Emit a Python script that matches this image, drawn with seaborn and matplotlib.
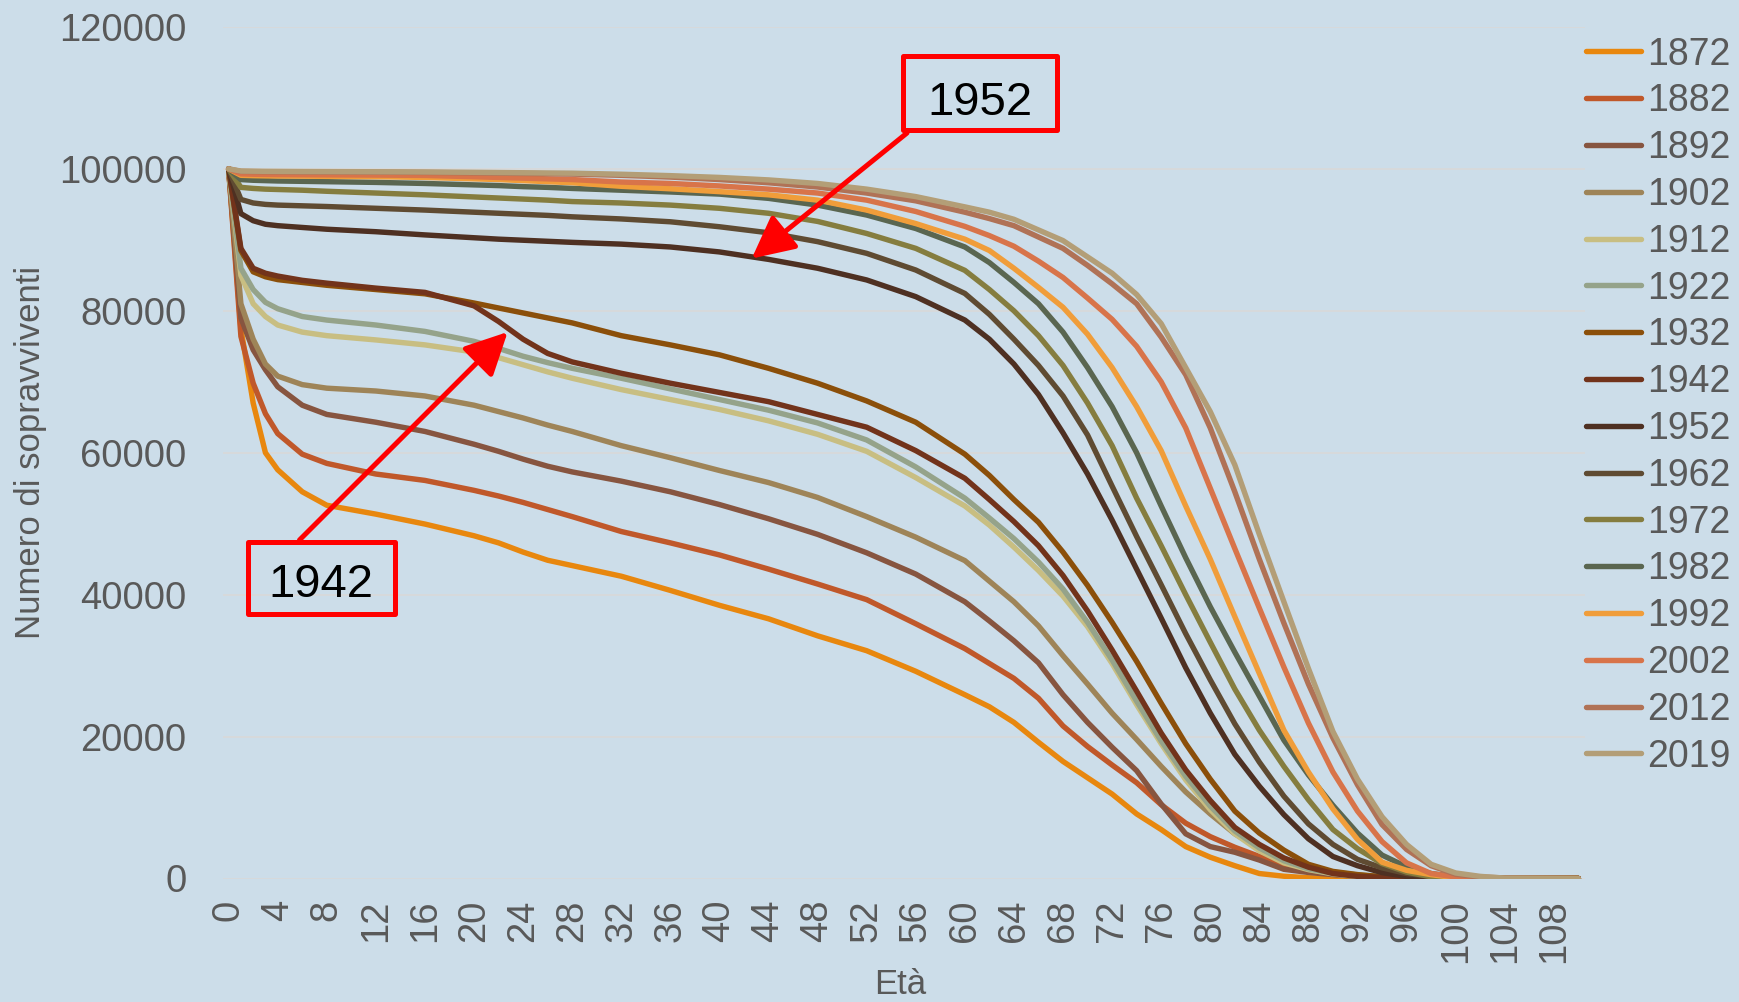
import matplotlib
matplotlib.use("Agg")
import matplotlib.pyplot as plt
from matplotlib.lines import Line2D
from matplotlib.patches import Rectangle
import seaborn as sns
import pandas as pd

# ---------------- data ----------------
ages = [0, 1, 2, 3, 4, 6, 8, 12, 16, 20, 22, 24, 26, 28, 32, 36, 40, 44, 48, 52, 56, 60,
        62, 64, 66, 68, 70, 72, 74, 76, 78, 80, 82, 84, 86, 88, 90, 92, 94, 96, 98, 100, 102, 104,
        110]

l1872 = [100000, 77500, 67000, 60000, 57600, 54500, 52600, 51350, 49950, 48300, 47300, 46000, 44850, 44100,
         42600, 40600, 38500, 36600, 34200, 32100, 29200, 25900,
         24200, 22000, 19200, 16500, 14200, 11900, 9100, 6900, 4500, 3000, 1800, 700, 320, 100, 30, 0, 0, 0, 0, 0, 0, 0,
         0]
l1882 = [100000, 76400, 69800, 65500, 62700, 59800, 58500, 57000, 56100, 54700, 53900, 53000, 52000, 51000,
         48900, 47300, 45600, 43600, 41500, 39300, 35900, 32400,
         30300, 28200, 25400, 21500, 18600, 16000, 13500, 10400, 7800, 5900, 4400, 3100, 1950, 1000, 600, 350, 200, 80, 30, 0, 0, 0,
         0]
l1892 = [100000, 79000, 74500, 71700, 69300, 66700, 65400, 64300, 63000, 61200, 60200, 59100, 58100, 57300,
         56000, 54500, 52700, 50700, 48500, 45900, 42900, 39000,
         36300, 33500, 30400, 25900, 22000, 18500, 15200, 10500, 6300, 4500, 3700, 2600, 1300, 850, 550, 300, 150, 50, 20, 0, 0, 0,
         0]
l1902 = [100000, 81000, 76000, 72500, 70800, 69600, 69100, 68700, 68000, 66700, 65800, 64900, 63900, 63000,
         61000, 59300, 57500, 55800, 53700, 51000, 48100, 44800,
         41900, 39000, 35600, 31400, 27400, 23300, 19600, 15800, 12200, 9100, 6300, 4300, 2700, 1500, 900, 500, 250, 100, 30, 0, 0, 0,
         0]
l1912 = [100000, 85000, 81000, 79200, 78000, 77000, 76500, 75900, 75200, 74200, 73400, 72400, 71400, 70500,
         68900, 67500, 66100, 64500, 62600, 60200, 56500, 52500,
         49800, 46700, 43400, 39800, 35500, 30300, 24500, 19000, 13900, 9700, 6300, 3900, 2200, 1250, 650, 300, 120, 30, 0, 0, 0, 0,
         0]
l1922 = [100000, 86000, 83000, 81200, 80300, 79200, 78700, 78000, 77100, 75700, 74700, 73600, 72700, 71900,
         70500, 69000, 67500, 66000, 64200, 61800, 58000, 53600,
         50800, 47900, 44600, 40800, 36100, 30800, 25000, 19400, 14400, 10200, 6700, 4300, 2500, 1350, 750, 400, 150, 50, 0, 0, 0, 0,
         0]
l1932 = [100000, 88500, 85500, 84800, 84400, 84000, 83600, 83000, 82400, 81100, 80400, 79700, 79000, 78300,
         76500, 75200, 73800, 71900, 69800, 67300, 64300, 59800,
         56800, 53400, 50200, 46000, 41300, 36100, 30600, 24700, 19000, 14000, 9500, 6400, 4000, 2000, 1000, 550, 250, 100, 30, 0, 0, 0,
         0]
l1942 = [100000, 88800, 86000, 85300, 84900, 84300, 83900, 83200, 82600, 80700, 78500, 76000, 74000, 72800,
         71200, 69800, 68500, 67200, 65400, 63600, 60300, 56400,
         53400, 50300, 46900, 42700, 37700, 32200, 26400, 20500, 15300, 11000, 7200, 4800, 2900, 1600, 700, 300, 150, 50, 0, 0, 0, 0,
         0]
l1952 = [100000, 93700, 92700, 92200, 92000, 91750, 91500, 91150, 90700, 90300, 90100, 89950, 89800, 89650,
         89400, 89000, 88300, 87250, 86000, 84350, 82000, 78700,
         76000, 72500, 68200, 62800, 57000, 50500, 43600, 36700, 29700, 23300, 17500, 13000, 9000, 5600, 3100, 1800, 830, 300, 100, 30, 0, 0,
         0]
l1962 = [100000, 95700, 95200, 95000, 94900, 94800, 94700, 94450, 94200, 93900, 93750, 93600, 93450, 93250,
         92950, 92550, 91850, 91000, 89750, 88100, 85750, 82450,
         79500, 76000, 72300, 68000, 62500, 55300, 48200, 41400, 34500, 28000, 21800, 16400, 11600, 7700, 4800, 2700, 1500, 700, 300, 90, 0, 0,
         0]
l1972 = [100000, 97400, 97250, 97150, 97100, 97000, 96850, 96600, 96350, 96050, 95900, 95750, 95600, 95400,
         95200, 94900, 94450, 93750, 92600, 90900, 88800, 85700,
         83000, 80000, 76500, 72300, 67000, 61000, 53600, 46900, 40000, 33300, 26700, 20900, 15800, 11100, 6900, 4200, 2100, 900, 250, 100, 20, 0,
         0]
l1982 = [100000, 98500, 98400, 98350, 98300, 98250, 98200, 98100, 97950, 97750, 97650, 97500, 97400, 97250,
         97000, 96750, 96450, 95850, 94900, 93500, 91600, 89000,
         86800, 84000, 81000, 77000, 72000, 66500, 60000, 52500, 45200, 38300, 31900, 25700, 19500, 14600, 10300, 6400, 3300, 1650, 700, 220, 50, 0,
         0]
l1992 = [100000, 99100, 99050, 99020, 99000, 98980, 98950, 98900, 98800, 98600, 98500, 98350, 98200, 98050,
         97550, 97200, 96800, 96350, 95600, 94200, 92300, 90100,
         88500, 86000, 83300, 80500, 76700, 72000, 66500, 60300, 52500, 45000, 36900, 28900, 20900, 15000, 9800, 5500, 2300, 1150, 540, 100, 30, 0,
         0]
l2002 = [100000, 99300, 99250, 99220, 99200, 99180, 99160, 99130, 99080, 98900, 98800, 98700, 98600, 98500,
         98150, 97950, 97600, 97150, 96600, 95600, 94000, 91900,
         90600, 89100, 87000, 84700, 81800, 78800, 75000, 70000, 63500, 55000, 46500, 38100, 29800, 21900, 15000, 9500, 5200, 2200, 700, 220, 50, 0,
         0]
l2012 = [100000, 99650, 99620, 99600, 99590, 99570, 99560, 99540, 99500, 99440, 99400, 99360, 99320, 99270,
         99100, 98850, 98500, 98050, 97450, 96600, 95500, 93900,
         93000, 92000, 90400, 88800, 86400, 83800, 81000, 76300, 71000, 63500, 54500, 45000, 36000, 27400, 19800, 13200, 7600, 4100, 1800, 600, 200, 80,
         0]
l2019 = [100000, 99700, 99680, 99660, 99650, 99630, 99620, 99600, 99570, 99520, 99490, 99460, 99430, 99400,
         99250, 99050, 98800, 98450, 97950, 97150, 96100, 94650,
         93900, 92900, 91400, 89900, 87600, 85300, 82300, 78200, 72000, 65800, 58300, 48500, 39000, 29600, 20700, 14000, 8700, 4800, 2000, 780, 300, 60,
         0]

years = ["1872", "1882", "1892", "1902", "1912", "1922", "1932", "1942",
         "1952", "1962", "1972", "1982", "1992", "2002", "2012", "2019"]
series = [l1872, l1882, l1892, l1902, l1912, l1922, l1932, l1942,
          l1952, l1962, l1972, l1982, l1992, l2002, l2012, l2019]
colors = ["#E8870E", "#C0582A", "#875540", "#9E8458", "#C8BE82", "#95A38A", "#8B4F0A", "#72331B",
          "#4E3022", "#5F4B32", "#857D3F", "#5A6650", "#F09D3A", "#D8744A", "#B07256", "#B39E77"]

y_ticks = [0, 20000, 40000, 60000, 80000, 100000, 120000]
x_ticks = list(range(0, 109, 4))

rows = []
for yr, vals in zip(years, series):
    for a, v in zip(ages, vals):
        rows.append({"Età": a, "Sopravviventi": v, "Anno": yr})
df = pd.DataFrame(rows)
palette = dict(zip(years, colors))

# ---------------- style ----------------
sns.set_style("white")
BG = "#CCDDE9"
TXT = "#595959"
plt.rcParams["font.family"] = ["Liberation Sans", "DejaVu Sans"]

W, H = 1739, 1002
fig = plt.figure(figsize=(W / 100, H / 100), dpi=100, facecolor=BG)
ax_l, ax_r, ax_t, ax_b = 222.5, 1584.5, 27, 878.5
ax = fig.add_axes([ax_l / W, 1 - ax_b / H, (ax_r - ax_l) / W, (ax_b - ax_t) / H])
ax.set_facecolor(BG)

LW = 3.9
sns.lineplot(data=df, x="Età", y="Sopravviventi", hue="Anno", hue_order=years,
             palette=palette, estimator=None, errorbar=None, legend=False, ax=ax,
             lw=LW, solid_capstyle="round", solid_joinstyle="round", zorder=3)

ax.set_xlim(-0.5, 110.5)
ax.set_ylim(0, 120000)
ax.set_xticks(x_ticks)
ax.set_xticklabels([str(t) for t in x_ticks], rotation=90)
ax.set_yticks(y_ticks)
ax.set_yticklabels([str(t) for t in y_ticks])
ax.tick_params(axis="y", length=0, pad=26, labelsize=27.5, labelcolor=TXT)
ax.tick_params(axis="x", length=0, pad=15, labelsize=27.5, labelcolor=TXT)
ax.yaxis.grid(True, color="#D9D9D9", lw=1.2, zorder=0)
ax.xaxis.grid(False)
ax.set_axisbelow(True)
for s in ax.spines.values():
    s.set_visible(False)

ax.set_xlabel("Età", fontsize=25, color=TXT)
ax.set_ylabel("Numero di sopravviventi", fontsize=25, color=TXT)
ax.xaxis.set_label_coords((900.5 - ax_l) / (ax_r - ax_l), (ax_b - 985) / (ax_b - ax_t))
ax.xaxis.label.set_va("center")
ax.yaxis.set_label_coords((31 - ax_l) / (ax_r - ax_l), 0.5)
ax.yaxis.label.set_va("center")

# legend
handles = [Line2D([0], [0], color=c, lw=LW, solid_capstyle="round") for c in colors]
leg = ax.legend(handles, years, loc="upper left", bbox_to_anchor=(1586 / W, 1 - 36.6 / H),
                bbox_transform=fig.transFigure, frameon=False, fontsize=27,
                labelcolor=TXT, handlelength=1.47, handletextpad=0.16,
                labelspacing=0.288, borderpad=0, borderaxespad=0)

# annotation boxes
def box(x0, y0, x1, y1):
    fig.add_artist(Rectangle((x0 / W, 1 - y1 / H), (x1 - x0) / W, (y1 - y0) / H,
                             transform=fig.transFigure, fill=False, ec="#FF0000",
                             lw=3.6, joinstyle="round", zorder=10))

box(903, 55.5, 1056.5, 129.5)
fig.text(979.7 / W, 1 - 115.3 / H, "1952", fontsize=34, color="black",
         ha="center", va="baseline", zorder=11)
box(247.5, 541.5, 394.5, 614)
fig.text(321 / W, 1 - 596.6 / H, "1942", fontsize=34, color="black",
         ha="center", va="baseline", zorder=11)

arrow = dict(arrowstyle="-|>,head_length=1.0,head_width=0.5", mutation_scale=26,
             color="#FF0000", lw=3.6, shrinkA=0, shrinkB=0)
ax.annotate("", xy=(42.63, 87370), xycoords="data",
            xytext=(907, H - 133), textcoords="figure pixels", arrowprops=arrow, zorder=9)
ax.annotate("", xy=(22.74, 77017), xycoords="data",
            xytext=(299.5, H - 540), textcoords="figure pixels", arrowprops=arrow, zorder=9)

fig.savefig("out.png", dpi=100, facecolor=BG)
